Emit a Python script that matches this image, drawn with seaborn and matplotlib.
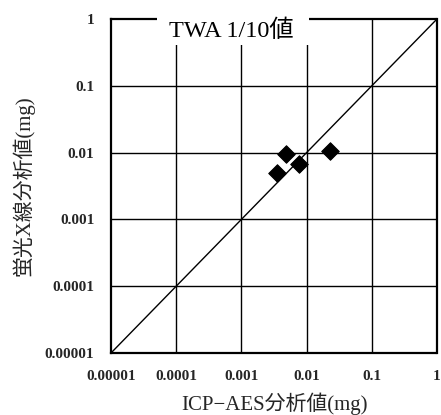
import matplotlib
matplotlib.use("Agg")
import matplotlib.pyplot as plt
from matplotlib.patches import Rectangle
import seaborn as sns
import pandas as pd

# ICP-AES vs fluorescent X-ray results (mg)
icp_aes = [0.0048, 0.0076, 0.0035, 0.023]
xrf = [0.0094, 0.0068, 0.0049, 0.0105]
decade_ticks = [0.00001, 0.0001, 0.001, 0.01, 0.1, 1]
decade_labels = ["0.00001", "0.0001", "0.001", "0.01", "0.1", "1"]

sns.set_theme(style="white")
plt.rcParams["font.family"] = ["Liberation Serif", "Noto Sans CJK JP", "DejaVu Sans"]

df = pd.DataFrame({"icp": icp_aes, "xrf": xrf})

fig = plt.figure(figsize=(4.41, 4.15), dpi=100)
ax = fig.add_axes([111 / 441, 1 - 353 / 415, 326 / 441, 334 / 415])
ax.set_xscale("log")
ax.set_yscale("log")
ax.set_xlim(1e-5, 1)
ax.set_ylim(1e-5, 1)

# grid lines at each decade
for v in decade_ticks[1:-1]:
    ax.axvline(v, color="black", lw=1.0, zorder=1)
    ax.axhline(v, color="black", lw=1.0, zorder=1)

# 1:1 line
ax.plot([1e-5, 1], [1e-5, 1], color="black", lw=1.0, zorder=2)

sns.scatterplot(data=df, x="icp", y="xrf", marker="D", s=80, color="black",
                edgecolor="black", ax=ax, zorder=3, legend=False)

ax.set_xticks(decade_ticks)
ax.set_xticklabels(decade_labels)
ax.set_yticks(decade_ticks)
ax.set_yticklabels(decade_labels)
ax.minorticks_off()
ax.tick_params(length=0, labelsize=11)
ax.tick_params(axis="x", pad=12)
ax.tick_params(axis="y", pad=12)
for lbl in ax.get_xticklabels() + ax.get_yticklabels():
    lbl.set_fontweight("bold")

for sp in ax.spines.values():
    sp.set_color("black")
    sp.set_linewidth(1.6)
    sp.set_linestyle((0, (6, 1)))

# white panel behind the TWA label, cutting the top frame and gridlines
ax.add_patch(Rectangle((0.141, 0.922), 0.466, 0.095, transform=ax.transAxes,
                       facecolor="white", edgecolor="none", zorder=4, clip_on=False))
ax.text(0.368, 0.966, "TWA 1/10値", transform=ax.transAxes, ha="center", va="center",
        fontsize=17.5, color="black", zorder=5)

ax.set_xlabel("ICP−AES分析値(mg)", fontsize=15, labelpad=7)
ax.set_ylabel("蛍光X線分析値(mg)", fontsize=15, labelpad=7)

fig.savefig("out.png", dpi=100)
